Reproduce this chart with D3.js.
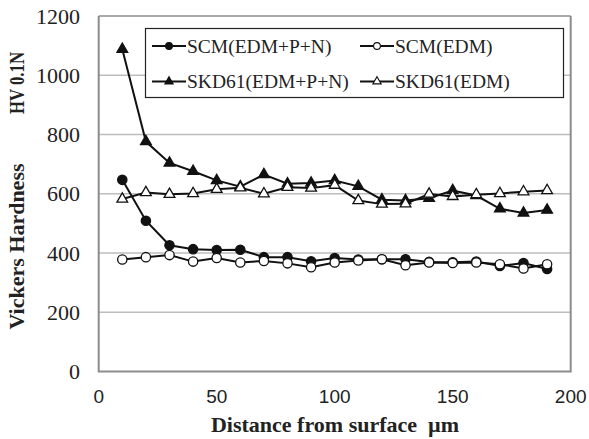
<!DOCTYPE html>
<html><head><meta charset="utf-8">
<script src="https://cdn.jsdelivr.net/npm/d3@7"></script>
<style>
html,body{margin:0;padding:0;background:#fff;}
svg{display:block;}
</style>
</head><body>
<svg id="chart" width="589" height="439"></svg>
<script>
const distance = [10,20,30,40,50,60,70,80,90,100,110,120,130,140,150,160,170,180,190];
const scmEdmPN = [647,509,426,413,410,411,386,386,372,383,378,379,379,370,369,371,356,366,346];
const scmEdm   = [378,386,393,371,383,368,373,365,352,368,375,379,359,368,366,368,362,348,362];
const skdEdmPN = [1088,776,704,676,645,624,665,634,636,645,625,580,577,585,611,594,549,535,545];
const skdEdm   = [582,604,598,601,615,620,600,622,619,629,577,565,566,599,591,597,601,607,611];
const seriesNames = ["SCM(EDM+P+N)","SCM(EDM)","SKD61(EDM+P+N)","SKD61(EDM)"];
const xTicks = [0,50,100,150,200];
const yTicks = [0,200,400,600,800,1000,1200];

const series = [
  {name: seriesNames[0], values: scmEdmPN, shape: "circle", filled: true},
  {name: seriesNames[1], values: scmEdm, shape: "circle", filled: false},
  {name: seriesNames[2], values: skdEdmPN, shape: "triangle", filled: true},
  {name: seriesNames[3], values: skdEdm, shape: "triangle", filled: false}
];

const svg = d3.select("#chart");
const L = 98.7, R = 570.7, T = 16, B = 371.5;
const x = d3.scaleLinear().domain([0,200]).range([L,R]);
const y = d3.scaleLinear().domain([0,1200]).range([B,T]);
const serif = "Liberation Serif";
const sans = "Liberation Sans";

// gridlines
svg.append("g").selectAll("line").data(yTicks.filter(d => d>0 && d<1200)).join("line")
  .attr("x1", L).attr("x2", R).attr("y1", d=>y(d)).attr("y2", d=>y(d))
  .attr("stroke", "#bdbdbd").attr("stroke-width", 1.5);
// top line
svg.append("line").attr("x1", L).attr("x2", R).attr("y1", y(1200)).attr("y2", y(1200))
  .attr("stroke", "#555").attr("stroke-width", 1.2);
// frame left/right/bottom
svg.append("path")
  .attr("d", `M${L},${y(1200)}V${B}H${R}V${y(1200)}`)
  .attr("fill", "none").attr("stroke", "#8c8c8c").attr("stroke-width", 2);

// y tick labels
svg.append("g").selectAll("text").data(yTicks).join("text")
  .attr("x", 80).attr("y", d=>y(d)).attr("dy", "0.35em")
  .attr("text-anchor", "end")
  .style("font-family", serif).attr("font-size", 22).attr("fill", "#222")
  .text(d=>d);
// x tick labels
svg.append("g").selectAll("text").data(xTicks).join("text")
  .attr("x", d=>x(d)).attr("y", 403)
  .attr("text-anchor", "middle")
  .style("font-family", sans).attr("font-size", 19).attr("fill", "#222")
  .text(d=>d);

// axis titles
svg.append("text").attr("x", 335).attr("y", 432).attr("text-anchor", "middle")
  .style("font-family", serif).attr("font-weight", "bold").attr("font-size", 22).attr("fill", "#222")
  .attr("xml:space", "preserve").style("white-space", "pre")
  .text("Distance from surface  \u00b5m");
svg.append("text").attr("transform", "translate(24,246.5) rotate(-90)").attr("text-anchor", "middle")
  .style("font-family", serif).attr("font-weight", "bold").attr("font-size", 22).attr("fill", "#222")
  .text("Vickers Hardness");
svg.append("text").attr("transform", "translate(24,83) rotate(-90)").attr("text-anchor", "middle")
  .style("font-family", serif).attr("font-weight", "bold").attr("font-size", 22).attr("fill", "#222")
  .attr("textLength", 62).attr("lengthAdjust", "spacingAndGlyphs")
  .text("HV 0.1N");

const line = d3.line().x((d,i)=>x(distance[i])).y(d=>y(d));
function sym(shape, big) {
  if (shape === "circle") return d3.symbol().type(d3.symbolCircle).size(big ? 68 : 36)();
  return d3.symbol().type(d3.symbolTriangle).size(big ? 50 : 30)();
}

series.forEach(s => {
  svg.append("path").datum(s.values).attr("d", line)
    .attr("fill", "none").attr("stroke", "#111").attr("stroke-width", 2);
  svg.append("g").selectAll("path").data(s.values).join("path")
    .attr("d", sym(s.shape, true))
    .attr("transform", (d,i)=>`translate(${x(distance[i])},${y(d)})`)
    .attr("fill", s.filled ? "#111" : "#fff")
    .attr("stroke", "#111").attr("stroke-width", 1.3);
});

// legend
const lg = svg.append("g");
lg.append("rect").attr("x", 145.5).attr("y", 28.5).attr("width", 418).attr("height", 69)
  .attr("fill", "#fff").attr("stroke", "#222").attr("stroke-width", 1.2);
const legendPos = [
  {x: 152, y: 46}, {x: 360, y: 46}, {x: 152, y: 81.5}, {x: 360, y: 81.5}
];
series.forEach((s, i) => {
  const p = legendPos[i];
  lg.append("line").attr("x1", p.x).attr("x2", p.x + 34).attr("y1", p.y).attr("y2", p.y)
    .attr("stroke", "#111").attr("stroke-width", 2);
  lg.append("path").attr("d", sym(s.shape, false))
    .attr("transform", `translate(${p.x + 17},${p.y})`)
    .attr("fill", s.filled ? "#111" : "#fff").attr("stroke", "#111").attr("stroke-width", 1.1);
  lg.append("text").attr("x", p.x + 35).attr("y", p.y).attr("dy", "0.35em")
    .style("font-family", serif).attr("font-size", 19.5).attr("fill", "#222")
    .text(s.name);
});
</script>
</body></html>
